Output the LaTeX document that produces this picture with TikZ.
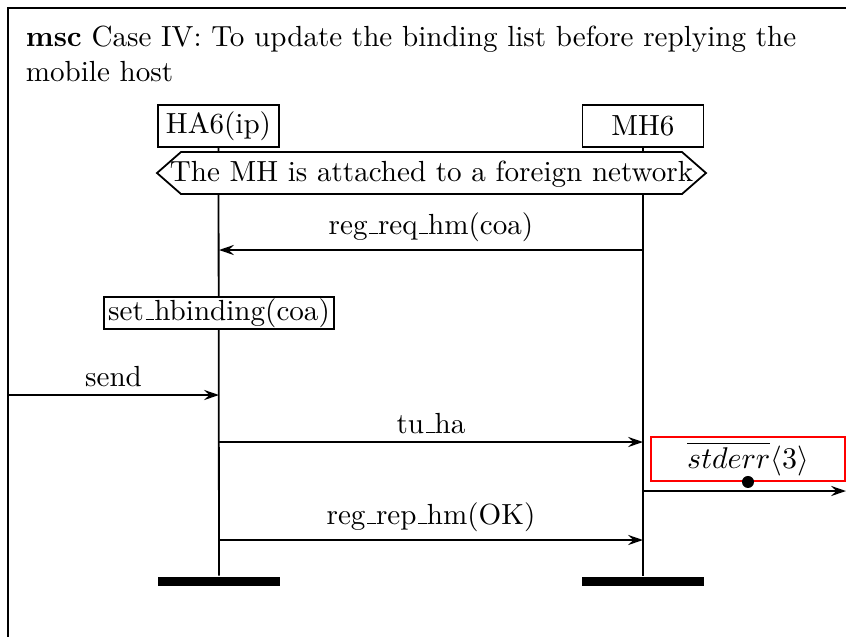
\documentclass[tikz,border=0pt]{standalone}
\usetikzlibrary{arrows.meta}
\newcommand\usc{\leavevmode\kern.06em\vbox{\hrule width.3em}}
\begin{document}
\begin{tikzpicture}[x=0.3333pt,y=-0.3333pt,line width=0.6pt,
  every node/.style={font=\fontsize{9.7pt}{11.7pt}\selectfont},
  inst/.style={draw,fill=white,minimum width=40.3pt,minimum height=14pt,inner sep=1pt},
  act/.style={draw,fill=white,inner xsep=1.5pt,inner ysep=0.5pt},
  msg/.style={-{Stealth[length=5pt,width=3.4pt,inset=1.8pt]}},
  lbl/.style={above,inner sep=2.5pt},
  endbar/.style={fill=black,minimum width=40.7pt,minimum height=3pt,inner sep=0pt}]
\useasboundingbox (0,0) rectangle (846,636);
\clip (0,0) rectangle (846,636);
% frame
\draw (8,8) rectangle (900,700);
\node[anchor=north west,align=left,inner sep=0pt] (title) at (25,25)
  {\textbf{msc} Case IV: To update the binding list before replying the\\mobile host};
% instances
\node[inst] (ha) at (218.5,126) {HA6(ip)};
\node[inst] (mh) at (643,126) {MH6};
\node[endbar] (haend) at (219,581) {};
\node[endbar] (mhend) at (643,581) {};
\draw (ha.south) -- (haend.north);
\draw (mh.south) -- (mhend.north);
% condition
\filldraw[fill=white] (157,173) -- (181,152) -- (682,152) -- (706,173) -- (682,194) -- (181,194) -- cycle;
\node (cond) at (431.5,174) {The MH is attached to a foreign network};
% messages
\coordinate (a1) at (643,250); \coordinate (b1) at (219,250);
\draw[msg] (a1) -- node[lbl] {reg\usc req\usc hm(coa)} (b1);
\node[act] (act) at (219,313) {set\usc hbinding(coa)};
\coordinate (env) at (8,395); \coordinate (b2) at (219,395);
\draw[msg] (env) -- node[lbl] {send} (b2);
\coordinate (a3) at (219,442); \coordinate (b3) at (643,442);
\draw[msg] (a3) -- node[lbl] {tu\usc ha} (b3);
\node[draw=red,minimum width=64.7pt,minimum height=14.7pt,inner sep=0pt] (err) at (748,459)
  {$\overline{stderr}\langle 3\rangle$};
\node[circle,fill=black,inner sep=0pt,minimum size=4pt] (dot) at (err.south) {};
\coordinate (a4) at (643,491); \coordinate (b4) at (846,491);
\draw[msg] (a4) -- (b4);
\coordinate (a5) at (219,540); \coordinate (b5) at (643,540);
\draw[msg] (a5) -- node[lbl] {reg\usc rep\usc hm(OK)} (b5);
\end{tikzpicture}
\end{document}
